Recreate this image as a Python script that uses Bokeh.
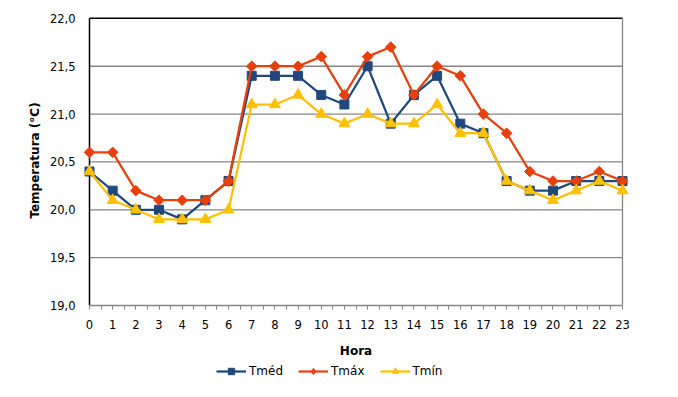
import numpy as np
from bokeh.plotting import figure
from bokeh.layouts import column
from bokeh.models import (Range1d, FixedTicker, CustomJSTickFormatter, Legend, LegendItem)
from bokeh.embed import file_html
from bokeh.resources import INLINE

hours = list(range(24))
t_med = [20.4, 20.2, 20.0, 20.0, 19.9, 20.1, 20.3, 21.4, 21.4, 21.4, 21.2, 21.1,
         21.5, 20.9, 21.2, 21.4, 20.9, 20.8, 20.3, 20.2, 20.2, 20.3, 20.3, 20.3]
t_max = [20.6, 20.6, 20.2, 20.1, 20.1, 20.1, 20.3, 21.5, 21.5, 21.5, 21.6, 21.2,
         21.6, 21.7, 21.2, 21.5, 21.4, 21.0, 20.8, 20.4, 20.3, 20.3, 20.4, 20.3]
t_min = [20.4, 20.1, 20.0, 19.9, 19.9, 19.9, 20.0, 21.1, 21.1, 21.2, 21.0, 20.9,
         21.0, 20.9, 20.9, 21.1, 20.8, 20.8, 20.3, 20.2, 20.1, 20.2, 20.3, 20.2]
y_ticks = [19.0, 19.5, 20.0, 20.5, 21.0, 21.5, 22.0]

FONT = "DejaVu Sans"
NAVY = "#1F497D"
RED = "#E8400C"
GOLD = "#FFC000"
GRAY = "#868686"

x0, x1 = hours[0], hours[-1]
pad = 10 / (533 / 23)

p = figure(frame_width=553, frame_height=290, output_backend="svg", toolbar_location=None,
           x_range=Range1d(x0 - pad, x1 + pad), y_range=Range1d(y_ticks[0], y_ticks[-1] + 0.03),
           min_border_left=79, min_border_right=38, min_border_top=15, min_border_bottom=56)
p.outline_line_color = None
p.xgrid.visible = False
p.ygrid.visible = False

# gridlines
grid_y = y_ticks[1:-1]
p.segment(x0=[x0] * len(grid_y), x1=[x1] * len(grid_y), y0=grid_y, y1=grid_y,
          line_color=GRAY, line_width=1.3)
# frame borders
p.segment(x0=[x0], x1=[x0], y0=[y_ticks[0]], y1=[y_ticks[-1]], line_color="black", line_width=1.5)
p.segment(x0=[x0], x1=[x1], y0=[y_ticks[-1]], y1=[y_ticks[-1]], line_color="black", line_width=1.5)
p.segment(x0=[x1], x1=[x1], y0=[y_ticks[0]], y1=[y_ticks[-1]], line_color=GRAY, line_width=1.3)

# x axis
xa = p.xaxis[0]
xa.bounds = (x0, x1)
xa.ticker = FixedTicker(ticks=hours, minor_ticks=[h + 0.5 for h in hours[:-1]])
xa.formatter = CustomJSTickFormatter(code="return tick.toFixed(0)")
xa.axis_line_color = GRAY
xa.axis_line_width = 1.3
xa.major_tick_line_color = GRAY
xa.minor_tick_line_color = GRAY
xa.major_tick_in = 0
xa.minor_tick_in = 0
xa.major_tick_out = 4
xa.minor_tick_out = 4
xa.major_label_standoff = 10
xa.major_label_text_font = FONT
xa.major_label_text_font_size = "11.5px"
xa.major_label_text_color = "black"
xa.axis_label = "Hora"
xa.axis_label_text_font = FONT
xa.axis_label_text_font_style = "bold"
xa.axis_label_text_font_size = "12px"
xa.axis_label_text_color = "black"
xa.axis_label_standoff = 12

ya = p.yaxis[0]
ya.ticker = FixedTicker(ticks=y_ticks)
ya.formatter = CustomJSTickFormatter(code="return tick.toFixed(1).replace('.', ',')")
ya.axis_line_color = None
ya.major_tick_line_color = None
ya.minor_tick_line_color = None
ya.major_tick_in = 0
ya.major_tick_out = 0
ya.major_label_standoff = 4
ya.major_label_text_font = FONT
ya.major_label_text_font_size = "11.5px"
ya.major_label_text_color = "black"
ya.axis_label = "Temperatura (°C)"
ya.axis_label_text_font = FONT
ya.axis_label_text_font_style = "bold"
ya.axis_label_text_font_size = "12px"
ya.axis_label_text_color = "black"
ya.axis_label_standoff = 5

# legend strip below the chart (its data lies outside its view; only the legend shows)
lp = figure(width=670, height=24, output_backend="svg", toolbar_location=None,
            x_range=Range1d(0, 1), y_range=Range1d(0, 1), x_axis_type=None, y_axis_type=None,
            min_border=0)
lp.outline_line_color = None
lp.xgrid.visible = False
lp.ygrid.visible = False

series = [("Tméd", t_med, NAVY, "square", 9, 0, "square"),
          ("Tmáx", t_max, RED, "square", 7.5, np.pi / 4, "diamond"),
          ("Tmín", t_min, GOLD, "triangle", 11, 0, "triangle")]
items = []
for name, vals, col, mk, sz, ang, lmk in series:
    p.line(hours, vals, line_color=col, line_width=2.25)
    p.scatter(hours, vals, marker=mk, size=sz, angle=ang, fill_color=col, line_color=col)
    l_ln = lp.line(hours, vals, line_color=col, line_width=2.25)
    l_mk = lp.scatter(hours, vals, marker=lmk, fill_color=col, line_color=col)
    items.append(LegendItem(label=name, renderers=[l_ln, l_mk]))

legend = Legend(items=items, orientation="horizontal", location=(137, 6),
                glyph_width=30, glyph_height=16, label_standoff=3, spacing=15,
                padding=0, margin=0, background_fill_alpha=0, border_line_alpha=0,
                label_text_font=FONT, label_text_font_size="12px", label_height=16,
                label_text_color="black")
lp.add_layout(legend, "center")

open("out.html", "w").write(file_html(column(p, lp, spacing=0), INLINE))
